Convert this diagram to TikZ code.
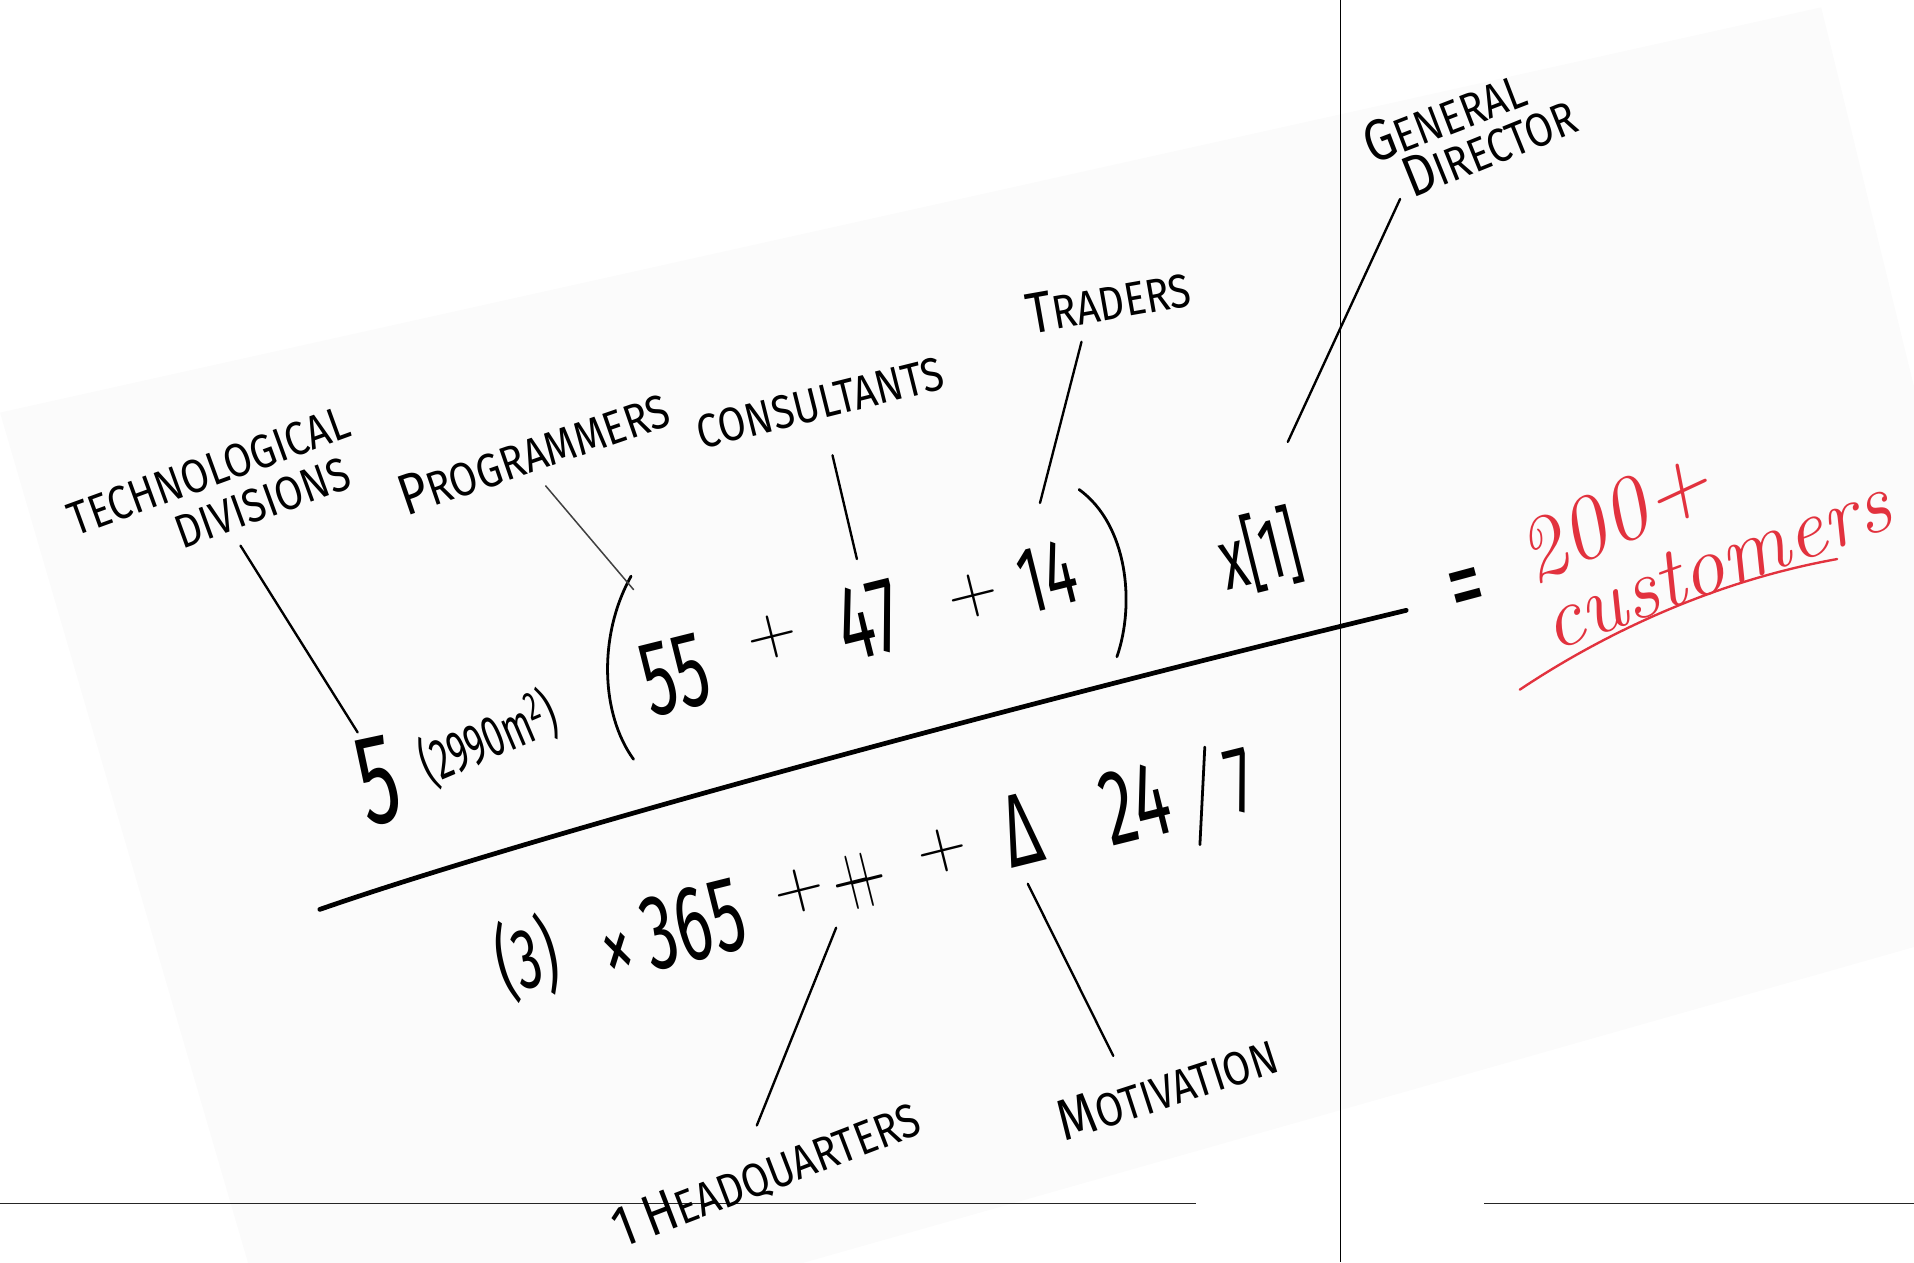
\documentclass[tikz,border=0pt]{standalone}
\usepackage{fontspec}
\usepackage{graphicx}
\usepackage{tikz}
\newfontfamily\handfont[FakeStretch=0.85]{Fira Sans}
\newfontfamily\numfont[FakeStretch=0.62]{Fira Sans}
\definecolor{inkred}{RGB}{226,50,62}
\definecolor{sheet}{RGB}{251,251,251}
\newcommand\initcap[1]{{\fontsize{27}{27}\selectfont#1}}

\begin{document}
\begin{tikzpicture}[x=0.02cm, y=-0.02cm, lbl/.style={font=\handfont\fontsize{22}{24}\selectfont, inner sep=1pt}, num/.style={font=\numfont\fontsize{#1}{#1}\selectfont, inner sep=0pt}, num/.default=50, plus/.style={font=\rmfamily\fontsize{#1}{#1}\selectfont, inner sep=0pt}, plus/.default=32, lead/.style={line width=1.1pt, line cap=round}, hand/.style={line width=1.3pt, line cap=round}, redtxt/.style={font=\itshape\fontsize{#1}{#1}\selectfont, text=inkred, inner sep=0pt}, redtxt/.default=40]
\useasboundingbox (0,0) rectangle (1568,1034);
% the sheet of paper
\begin{scope}
\clip (0,0) rectangle (1568,1034);
\fill[sheet] (0,338) -- (1492,6) -- (1673,746) -- (238,1154) -- cycle;
\end{scope}
\draw[line width=0.6pt] (1098,0) -- (1098,1034);
\draw[line width=0.7pt, black!85] (0,986) -- (980,986);
\draw[line width=0.7pt, black!85] (1216,986) -- (1568,986);

% labels
\node[lbl, rotate=20] (tech) at (171,386) {TECHNOLOGICAL};
\node[lbl, rotate=20] (div) at (215,412) {DIVISIONS};
\node[lbl, rotate=19] (prog) at (437,370) {\initcap{P}ROGRAMMERS};
\node[lbl, rotate=14] (cons) at (672,330) {CONSULTANTS};
\node[lbl, rotate=10] (trad) at (908,246) {\initcap{T}RADERS};
\node[lbl, rotate=21] (gen) at (1183,95) {\initcap{G}ENERAL};
\node[lbl, rotate=22] (dir) at (1220,120) {\initcap{D}IRECTOR};
\node[lbl, rotate=21] (hq) at (628,962) {\initcap{1} \initcap{H}EADQUARTERS};
\node[lbl, rotate=18] (mot) at (956,891) {\initcap{M}OTIVATION};

% numerator
\node[num=60, rotate=12] (five) at (310,640) {5};
\node[num=27, rotate=23] (area) at (400,605) {(2990m\textsuperscript{2})};
\node[num, rotate=14] (n55) at (553,553) {55};
\node[plus, rotate=14] (pa) at (633,522) {+};
\node[num, rotate=14] (n47) at (712,508) {47};
\node[plus, rotate=14] (pb) at (797,488) {+};
\node[num=44, rotate=14] (n14) at (858,472) {14};
\node[num=40, rotate=14] (mul) at (1032,452) {x[1]};
\draw[hand] (517,472) .. controls (490,520) and (492,585) .. (519,622);
\draw[hand] (884,401) .. controls (924,430) and (930,495) .. (915,538);

% fraction line and result
\coordinate (fracL) at (262,745);
\coordinate (fracR) at (1152,500);
\draw[line width=2.2pt, line cap=round] (fracL) .. controls (420,690) and (800,585) .. (fracR);
\node[num=52, rotate=15] (eq) at (1203,488) {=};

% denominator
\node[num=40, rotate=14] (d3) at (432,785) {(3)};
\node[num=45, rotate=14] (dx) at (507,784) {×};
\node[num, rotate=14] (d365) at (568,757) {365};
\node[plus, rotate=14] (pc) at (655,730) {+};
\node[plus=24, rotate=14] (hqs) at (704,722) {\scalebox{1}[1.7]{+\kern-.42em+}};
\node[plus, rotate=14] (pd) at (772,697) {+};
\node[num=48, rotate=14] (delta) at (836,680) {Δ};
\node[num, rotate=14] (d24) at (930,658) {24};
\node[num=44, rotate=14] (d7) at (1016,640) {7};
\draw[hand] (987,612) -- (983,692);

% leader lines
\coordinate (techA) at (197,447); \coordinate (techB) at (293,600);
\coordinate (progA) at (447,398); \coordinate (progB) at (519,483);
\coordinate (consA) at (682,373); \coordinate (consB) at (702,458);
\coordinate (tradA) at (886,280); \coordinate (tradB) at (852,412);
\coordinate (genA) at (1147,163); \coordinate (genB) at (1055,362);
\coordinate (hqA) at (685,760); \coordinate (hqB) at (620,922);
\coordinate (motA) at (842,724); \coordinate (motB) at (912,865);
\draw[lead] (techA) -- (techB);
\draw[lead, line width=0.7pt, black!75] (progA) -- (progB);
\draw[lead] (consA) -- (consB);
\draw[lead] (tradA) -- (tradB);
\draw[lead] (genA) -- (genB);
\draw[lead] (hqA) -- (hqB);
\draw[lead] (motA) -- (motB);

% answer in red
\node[redtxt=42, rotate=25] (two) at (1322,424) {200+};
\node[redtxt=40, rotate=20] (cust) at (1406,462) {customers};
\coordinate (ulA) at (1245,565);
\coordinate (ulB) at (1505,458);
\draw[inkred, line width=1.1pt, line cap=round] (ulA) .. controls (1320,515) and (1410,475) .. (ulB);
\end{tikzpicture}
\end{document}
